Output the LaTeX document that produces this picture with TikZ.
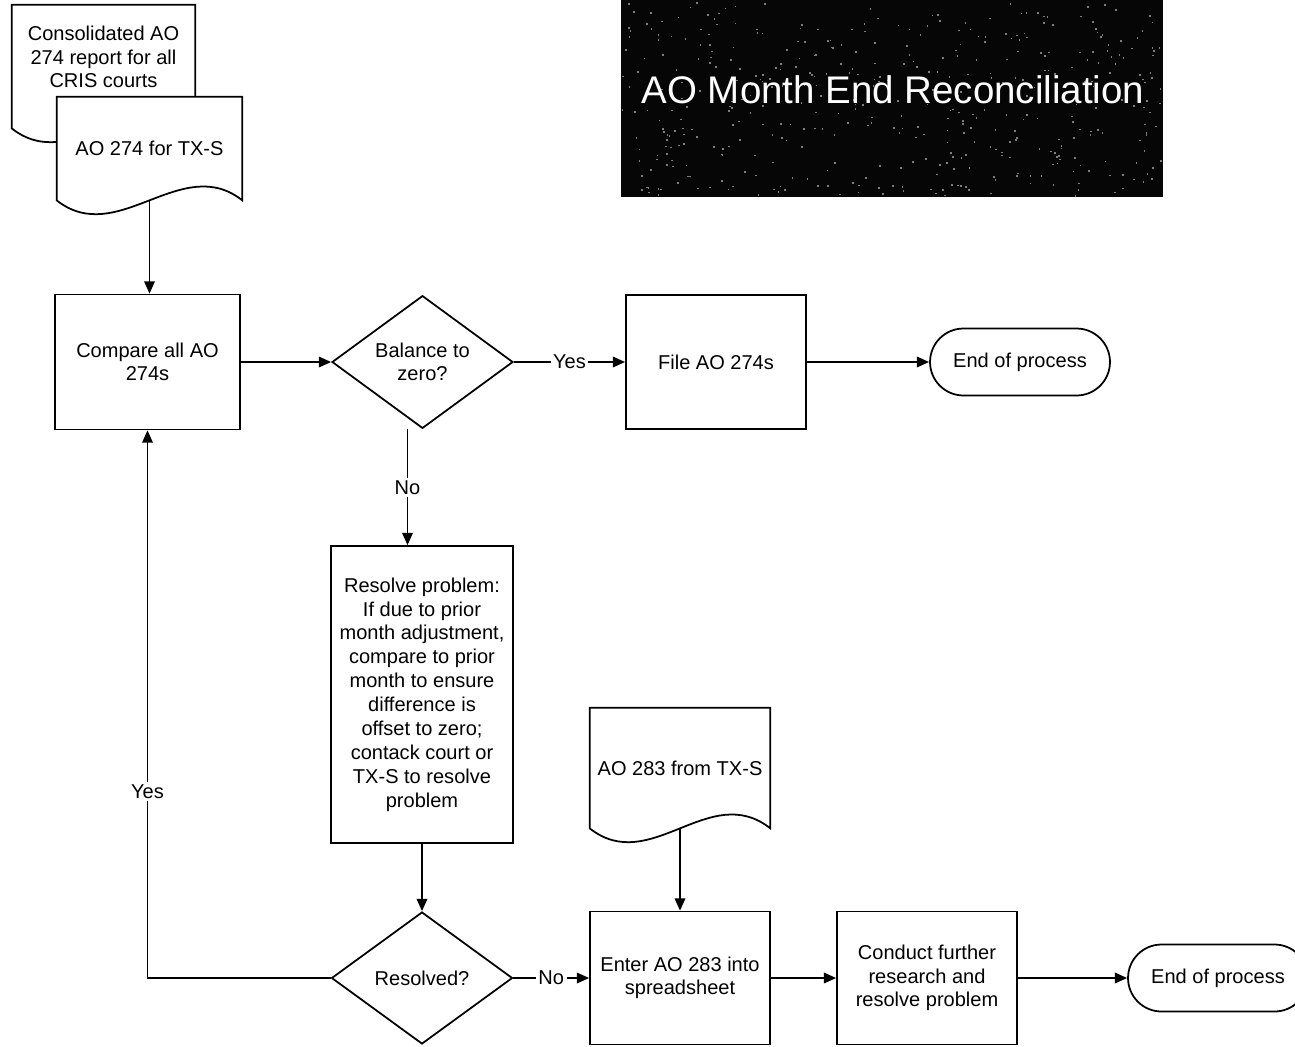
\documentclass[tikz,border=0pt]{standalone}
\usepackage{fontspec}
\setmainfont{Liberation Sans}
\usepackage{xcolor}
\definecolor{scan-black}{HTML}{060606}
\definecolor{scan-grey}{HTML}{7C7C7C}
\usepackage{tikz}
\usetikzlibrary{shapes.geometric, shapes.misc, arrows.meta, backgrounds}

\tikzset{
    flow-text/.style={font=\fontsize{11.4}{13.3}\selectfont, align=center, inner sep=0pt},
    flow-box/.style={flow-text, draw, line width=1pt, rectangle, minimum width=3.6cm, minimum height=2.68cm},
    flow-doc/.style={flow-text, rectangle, minimum width=3.66cm},
    flow-decision/.style={flow-text, draw, line width=1pt, diamond, minimum width=3.62cm, minimum height=2.64cm},
    flow-end/.style={flow-text, draw, line width=1pt, rounded rectangle, minimum width=3.6cm, minimum height=1.34cm},
    flow-line/.style={line width=1pt},
    flow-arrow/.style={line width=1pt, -{Triangle[length=7pt, width=6pt]}},
    flow-label/.style={flow-text, fill=white, inner sep=1.5pt}
}

\begin{document}
\begin{tikzpicture}[x=0.02cm, y=-0.02cm]

    % Page
    \useasboundingbox (0, 0) rectangle (1295, 1046);

    % Title
    \fill[scan-black] (621, 0) rectangle (1163, 197);
    \pgfmathsetseed{42}
    \foreach \i in {1,...,450}
        \fill[scan-grey] ({621 + 539*rnd}, {2 + 193*rnd}) rectangle ++(1.6, 1.6);
    \node[font=\fontsize{21.9}{26}\selectfont, text=white] (title) at (893, 90) {AO Month End Reconciliation};

    % Documents
    \node[flow-doc, minimum height=2.08cm] (cons) at (103.5, 57) {Consolidated AO\\274 report for all\\CRIS courts};
    \node[flow-doc, minimum width=3.7cm, minimum height=2.06cm] (tx) at (149.5, 148.5) {AO 274 for TX-S};
    \node[flow-doc, minimum width=3.6cm, minimum height=2.4cm] (ao283) at (680, 768) {AO 283 from TX-S};

    \begin{pgfonlayer}{background}
        \foreach \d/\drop in {cons/0.38cm, tx/0cm, ao283/0cm}
            \filldraw[fill=white, flow-line] (\d.north west) -- (\d.north east) -- ([yshift=-\drop]\d.south east)
                .. controls +(-61, -48) and +(61, 48) .. ([yshift=-\drop]\d.south west) -- cycle;
    \end{pgfonlayer}

    % Steps
    \node[flow-box, minimum width=3.7cm, minimum height=2.7cm] (cmp) at (147.5, 362) {Compare all AO\\274s};
    \node[flow-decision] (bal) at (422.5, 362) {Balance to\\zero?};
    \node[flow-box] (file) at (716, 362) {File AO 274s};
    \node[flow-end] (end1) at (1020, 362) {End of process};

    \node[flow-box, minimum width=3.64cm, minimum height=5.94cm, font=\fontsize{11.4}{13.6}\selectfont] (res) at (422, 694.5)
        {Resolve problem:\\If due to prior\\month adjustment,\\compare to prior\\month to ensure\\difference is\\offset to zero;\\contack court or\\TX-S to resolve\\problem};
    \node[flow-decision] (resd) at (422, 978) {Resolved?};
    \node[flow-box, minimum height=2.66cm] (ent) at (680, 978) {Enter AO 283 into\\spreadsheet};
    \node[flow-box, minimum height=2.66cm] (cond) at (927, 978) {Conduct further\\research and\\resolve problem};
    \node[flow-end] (end2) at (1218, 978) {End of process};

    % Connectors
    \draw[flow-arrow] (tx.south) -- (tx.south |- cmp.north);
    \draw[flow-arrow] (cmp) -- (bal);
    \draw[flow-arrow] (bal) -- node[flow-label] {Yes} (file);
    \draw[flow-arrow] (file) -- (end1);
    \draw[flow-arrow] ([xshift=-0.3cm]bal.south) -- node[flow-label] {No} ([xshift=-0.3cm]bal.south |- res.north);
    \draw[flow-arrow] (res) -- (resd);
    \draw[flow-arrow] (resd.west) -| node[flow-label, pos=0.67] {Yes} (cmp.south);
    \draw[flow-arrow] (resd) -- node[flow-label] {No} (ent);
    \draw[flow-arrow] (ao283.south) -- (ent.north);
    \draw[flow-arrow] (ent) -- (cond);
    \draw[flow-arrow] (cond) -- (end2);

\end{tikzpicture}
\end{document}
